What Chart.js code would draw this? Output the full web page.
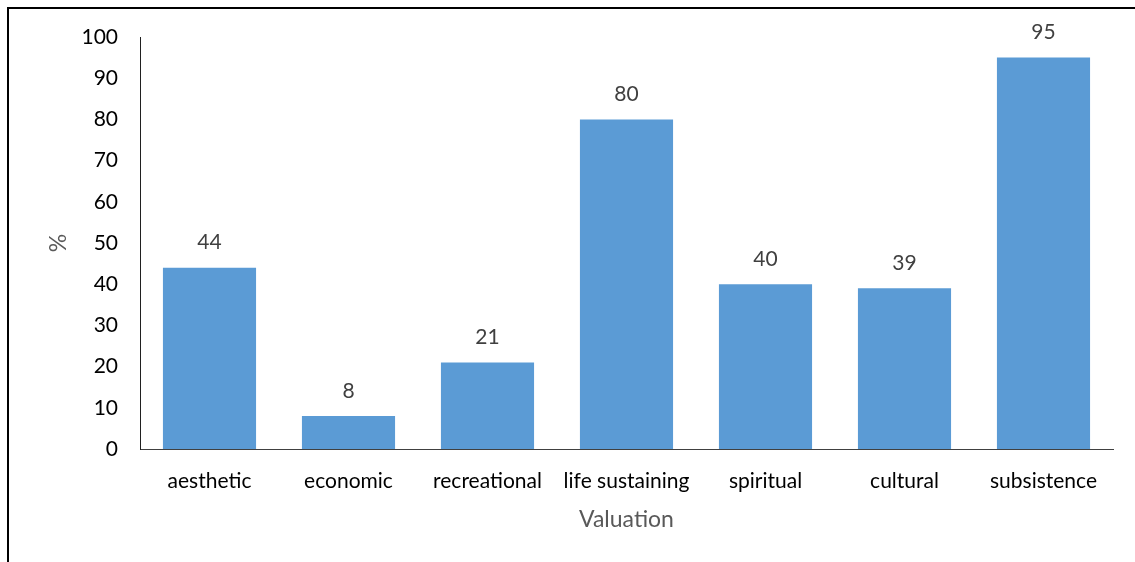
<!DOCTYPE html>
<html>
<head>
<meta charset="utf-8">
<script src="https://cdn.jsdelivr.net/npm/chart.js@4"></script>
<style>
  html, body { margin: 0; padding: 0; background: #fff; }
  #wrap { position: relative; width: 1135px; height: 562px; overflow: hidden; }
  #frame { position: absolute; left: 7px; top: 7px; width: 1140px; height: 600px;
           border-top: 2px solid #000; border-left: 2px solid #000; }
  #analytics { position: absolute; left: 0; top: 0; }
</style>
</head>
<body>
<div id="wrap">
  <div id="frame"></div>
  <canvas id="analytics" width="1135" height="562"></canvas>
</div>
<script>
var categories = ['aesthetic', 'economic', 'recreational', 'life sustaining', 'spiritual', 'cultural', 'subsistence'];
var percentValues = [44, 8, 21, 80, 40, 39, 95];
var yTicks = [0, 10, 20, 30, 40, 50, 60, 70, 80, 90, 100];

var fontFamily = 'Lato, "Open Sans", sans-serif';

// draws the value above each bar
var valueLabels = {
  id: 'valueLabels',
  afterDatasetsDraw: function (chart) {
    var c = chart.ctx;
    var meta = chart.getDatasetMeta(0);
    c.save();
    c.font = '21px ' + fontFamily;
    c.fillStyle = '#404040';
    c.textAlign = 'center';
    c.textBaseline = 'middle';
    meta.data.forEach(function (bar, i) {
      c.fillText(String(percentValues[i]), bar.x, bar.y - 25);
    });
    c.restore();
  }
};

Chart.defaults.font.family = fontFamily;

var ctx = document.getElementById('analytics');
var chart = new Chart(ctx, {
  type: 'bar',
  data: {
    labels: categories,
    datasets: [{
      label: '%',
      data: percentValues,
      backgroundColor: '#5B9BD5',
      borderWidth: 0,
      categoryPercentage: 1,
      barPercentage: 0.67
    }]
  },
  options: {
    responsive: false,
    animation: false,
    devicePixelRatio: 1,
    layout: { padding: { left: 0, top: 37, right: 22, bottom: 0 } },
    plugins: {
      legend: { display: false },
      tooltip: { enabled: false }
    },
    scales: {
      x: {
        grid: { display: false, drawTicks: false },
        border: { display: true, color: '#404040', width: 1 },
        ticks: { color: '#000', font: { size: 21 }, padding: 20, maxRotation: 0, autoSkip: false },
        title: { display: true, text: 'Valuation', color: '#595959', font: { size: 23 }, padding: { top: 0, bottom: 29 } },
        afterFit: function (scale) { scale.height = 113; }
      },
      y: {
        min: 0,
        max: 100,
        afterBuildTicks: function (scale) {
          scale.ticks = yTicks.map(function (v) { return { value: v }; });
        },
        grid: { display: false, drawTicks: false },
        border: { display: true, color: '#202020', width: 1 },
        ticks: { color: '#000', font: { size: 21 }, padding: 22 },
        title: { display: true, text: '%', color: '#595959', font: { size: 23 }, padding: { top: 45, bottom: 0 } },
        afterFit: function (scale) { scale.width = 140; }
      }
    }
  },
  plugins: [valueLabels]
});
</script>
</body>
</html>
